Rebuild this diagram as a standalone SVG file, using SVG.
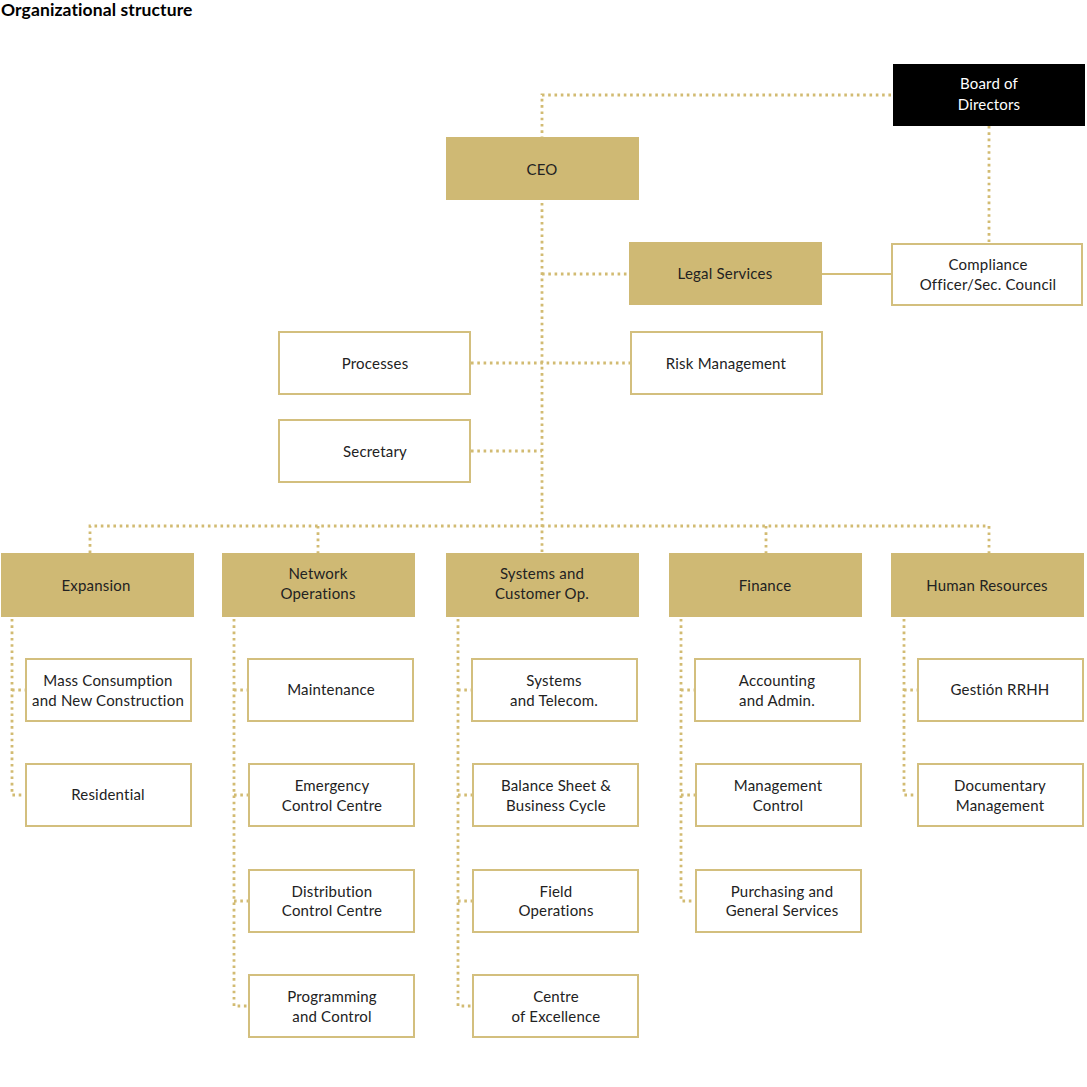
<svg xmlns="http://www.w3.org/2000/svg" width="1087" height="1087" viewBox="0 0 1087 1087">
<style>
.g{fill:#CFB974}
.w{fill:#fff;stroke:#D3BF7E;stroke-width:2}
.b{fill:#000}
text{font-family:Lato,"Liberation Sans",sans-serif;font-size:15px;fill:#222;text-anchor:middle;letter-spacing:0.2px}
.wt{fill:#fff}
.d{fill:none;stroke:#D2BB72;stroke-width:2.8;stroke-dasharray:2.6 3.7}
.s{fill:none;stroke:#D4BE78;stroke-width:2}
.title{font-weight:bold;font-size:17.5px;text-anchor:start;fill:#000;letter-spacing:0.1px}
</style>
<rect width="1087" height="1087" fill="#fff"/>
<text class="title" x="1" y="16">Organizational structure</text>
<g id="connectors">
<path class="d" d="M891 95H542V137"/>
<path class="d" d="M989 126V243"/>
<path class="s" d="M822 274H891"/>
<path class="d" d="M542 203V553"/>
<path class="d" d="M542 274H629"/>
<path class="d" d="M471 363H630"/>
<path class="d" d="M471 451H542"/>
<path class="d" d="M90 553V526H989V553"/>
<path class="d" d="M318 526V553"/>
<path class="d" d="M766 526V553"/>
<path class="d" d="M12 619V795H25M12 690H25"/>
<path class="d" d="M234 619V1006H248M234 690H248M234 795H248M234 901H248"/>
<path class="d" d="M458 619V1006H472M458 690H472M458 795H472M458 901H472"/>
<path class="d" d="M681 619V901H695M681 690H695M681 795H695"/>
<path class="d" d="M904 619V795H917M904 690H917"/>
</g>
<g id="board"><rect class="b" x="893" y="64" width="192" height="62"/><text class="wt" x="989" y="89">Board of</text><text class="wt" x="989" y="110">Directors</text></g>
<g id="ceo"><rect class="g" x="446" y="137" width="193" height="63"/><text x="542" y="175">CEO</text></g>
<g id="legal"><rect class="g" x="629" y="242" width="193" height="63"/><text x="725" y="279">Legal Services</text></g>
<g id="compliance"><rect class="w" x="892" y="244" width="190" height="61"/><text x="988" y="270">Compliance</text><text x="988" y="290">Officer/Sec. Council</text></g>
<g id="processes"><rect class="w" x="279" y="332" width="191" height="62"/><text x="375" y="369">Processes</text></g>
<g id="risk"><rect class="w" x="631" y="332" width="191" height="62"/><text x="726" y="369">Risk Management</text></g>
<g id="secretary"><rect class="w" x="279" y="420" width="191" height="62"/><text x="375" y="457">Secretary</text></g>
<g id="expansion"><rect class="g" x="1" y="553" width="193" height="64"/><text x="96" y="591">Expansion</text></g>
<g id="network"><rect class="g" x="222" y="553" width="193" height="64"/><text x="318" y="579">Network</text><text x="318" y="599">Operations</text></g>
<g id="systems"><rect class="g" x="446" y="553" width="193" height="64"/><text x="542" y="579">Systems and</text><text x="542" y="599">Customer Op.</text></g>
<g id="finance"><rect class="g" x="669" y="553" width="193" height="64"/><text x="765" y="591">Finance</text></g>
<g id="hr"><rect class="g" x="891" y="553" width="193" height="64"/><text x="987" y="591">Human Resources</text></g>
<g id="mass"><rect class="w" x="26" y="659" width="165" height="62"/><text x="108" y="686">Mass Consumption</text><text x="108" y="706">and New Construction</text></g>
<g id="residential"><rect class="w" x="26" y="764" width="165" height="62"/><text x="108" y="800">Residential</text></g>
<g id="maintenance"><rect class="w" x="248" y="659" width="165" height="62"/><text x="331" y="695">Maintenance</text></g>
<g id="emergency"><rect class="w" x="249" y="764" width="165" height="62"/><text x="332" y="791">Emergency</text><text x="332" y="811">Control Centre</text></g>
<g id="distribution"><rect class="w" x="249" y="870" width="165" height="62"/><text x="332" y="897">Distribution</text><text x="332" y="916">Control Centre</text></g>
<g id="programming"><rect class="w" x="249" y="975" width="165" height="62"/><text x="332" y="1002">Programming</text><text x="332" y="1022">and Control</text></g>
<g id="systems-telecom"><rect class="w" x="472" y="659" width="165" height="62"/><text x="554" y="686">Systems</text><text x="554" y="706">and Telecom.</text></g>
<g id="balance"><rect class="w" x="473" y="764" width="165" height="62"/><text x="556" y="791">Balance Sheet &amp;</text><text x="556" y="811">Business Cycle</text></g>
<g id="field"><rect class="w" x="473" y="870" width="165" height="62"/><text x="556" y="897">Field</text><text x="556" y="916">Operations</text></g>
<g id="excellence"><rect class="w" x="473" y="975" width="165" height="62"/><text x="556" y="1002">Centre</text><text x="556" y="1022">of Excellence</text></g>
<g id="accounting"><rect class="w" x="695" y="659" width="165" height="62"/><text x="777" y="686">Accounting</text><text x="777" y="706">and Admin.</text></g>
<g id="management-control"><rect class="w" x="696" y="764" width="165" height="62"/><text x="778" y="791">Management</text><text x="778" y="811">Control</text></g>
<g id="purchasing"><rect class="w" x="696" y="870" width="165" height="62"/><text x="782" y="897">Purchasing and</text><text x="782" y="916">General Services</text></g>
<g id="gestion"><rect class="w" x="918" y="659" width="165" height="62"/><text x="1000" y="695">Gestión RRHH</text></g>
<g id="documentary"><rect class="w" x="918" y="764" width="165" height="62"/><text x="1000" y="791">Documentary</text><text x="1000" y="811">Management</text></g>
</svg>
